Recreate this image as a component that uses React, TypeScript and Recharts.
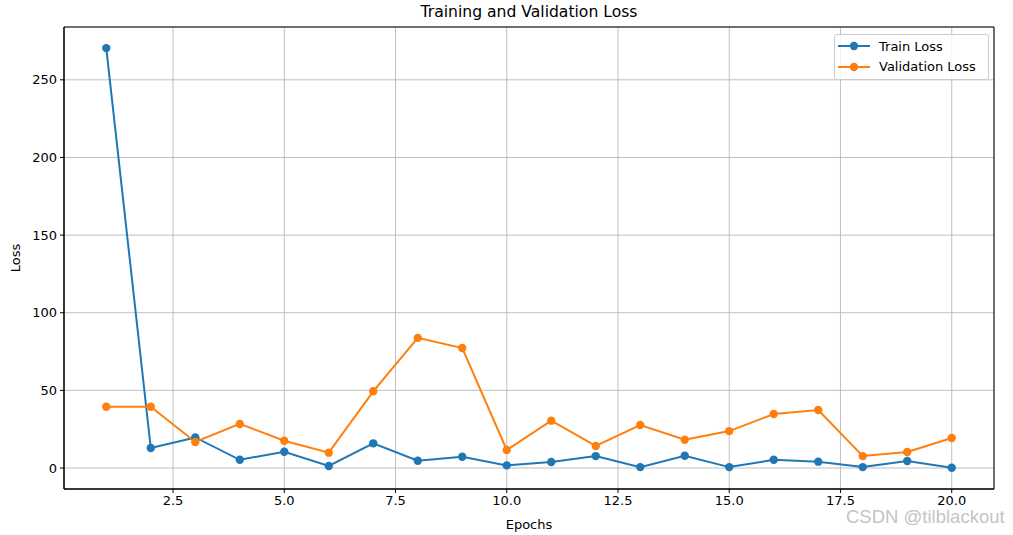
import React from "react";
import {
  LineChart,
  Line,
  XAxis,
  YAxis,
  CartesianGrid,
  ReferenceArea,
} from "recharts";

const epochs = [1, 2, 3, 4, 5, 6, 7, 8, 9, 10, 11, 12, 13, 14, 15, 16, 17, 18, 19, 20];
const trainLoss = [270.4, 12.9, 19.7, 5.3, 10.5, 1.3, 15.9, 4.7, 7.3, 1.7, 3.9, 7.7, 0.6, 7.9, 0.6, 5.3, 4.1, 0.6, 4.5, 0.2];
const valLoss = [39.5, 39.5, 16.8, 28.4, 17.6, 9.9, 49.4, 83.8, 77.3, 11.6, 30.5, 14.2, 27.7, 18.2, 23.8, 34.8, 37.4, 7.7, 10.3, 19.3];
const xTicks = [2.5, 5, 7.5, 10, 12.5, 15, 17.5, 20];
const yTicks = [0, 50, 100, 150, 200, 250];

const BLUE = "#1f77b4";
const ORANGE = "#ff7f0e";
const FONT = "DejaVu Sans, sans-serif";

const data = epochs.map((e, i) => ({ epoch: e, train: trainLoss[i], val: valLoss[i] }));

function LegendRow({ color, label }: { color: string; label: string }) {
  return (
    <div style={{ display: "flex", alignItems: "center", height: 20.5 }}>
      <svg width={34} height={12} style={{ marginRight: 8 }}>
        <line x1={1} y1={6} x2={33} y2={6} stroke={color} strokeWidth={2} />
        <circle cx={17} cy={6} r={4.2} fill={color} />
      </svg>
      <span>{label}</span>
    </div>
  );
}

export default function App() {
  return (
    <div
      style={{
        position: "absolute",
        left: 0,
        top: 0,
        width: 1013,
        height: 535,
        background: "#fff",
        fontFamily: FONT,
      }}
    >
      {/* watermark sits under the chart, tick labels draw over it */}
      <div
        style={{
          position: "absolute",
          left: 846,
          top: 506,
          fontSize: 18.5,
          color: "#c4c4c4",
          fontFamily: "Liberation Sans, Arial, sans-serif",
          whiteSpace: "nowrap",
        }}
      >
        CSDN @tilblackout
      </div>
      <div
        style={{
          position: "absolute",
          left: 64,
          width: 930,
          top: 3,
          textAlign: "center",
          fontSize: 15.6,
          color: "#000",
        }}
      >
        Training and Validation Loss
      </div>
      <LineChart
        width={1013}
        height={535}
        data={data}
        margin={{ top: 27, right: 19, bottom: 0, left: 0 }}
        style={{ fontFamily: FONT, position: "absolute", left: 0, top: 0 }}
      >
        <CartesianGrid stroke="#b0b0b0" strokeWidth={0.8} />
        <XAxis
          dataKey="epoch"
          type="number"
          domain={[0.05, 20.95]}
          ticks={xTicks}
          allowDataOverflow
          height={46}
          tickSize={4}
          tickMargin={3}
          tickFormatter={(v: number) => v.toFixed(1)}
          tick={{ fill: "#000", fontSize: 13 }}
          stroke="#000"
          label={{ value: "Epochs", position: "insideBottom", offset: 6, fill: "#000", fontSize: 13 }}
        />
        <YAxis
          type="number"
          domain={[-13.5, 284]}
          ticks={yTicks}
          allowDataOverflow
          width={64}
          tickSize={4}
          tickMargin={3}
          tick={{ fill: "#000", fontSize: 13 }}
          stroke="#000"
          label={{
            value: "Loss",
            angle: -90,
            position: "insideLeft",
            offset: 15,
            fill: "#000",
            fontSize: 13,
            style: { textAnchor: "middle" },
          }}
        />
        <ReferenceArea
          x1={0.05}
          x2={20.95}
          y1={-13.5}
          y2={284}
          fill="none"
          stroke="#000"
          strokeWidth={1}
          ifOverflow="extendDomain"
        />
        <Line
          dataKey="train"
          name="Train Loss"
          stroke={BLUE}
          strokeWidth={2}
          dot={{ r: 4.2, fill: BLUE, stroke: BLUE, strokeWidth: 0 }}
          activeDot={false}
          isAnimationActive={false}
        />
        <Line
          dataKey="val"
          name="Validation Loss"
          stroke={ORANGE}
          strokeWidth={2}
          dot={{ r: 4.2, fill: ORANGE, stroke: ORANGE, strokeWidth: 0 }}
          activeDot={false}
          isAnimationActive={false}
        />
      </LineChart>
      <div
        style={{
          position: "absolute",
          left: 834,
          top: 34,
          width: 151,
          height: 43,
          border: "1px solid #cccccc",
          borderRadius: 3,
          background: "rgba(255,255,255,0.8)",
          fontSize: 13,
          color: "#000",
          padding: "1px 0 0 2px",
          boxSizing: "content-box",
        }}
      >
        <LegendRow color={BLUE} label="Train Loss" />
        <LegendRow color={ORANGE} label="Validation Loss" />
      </div>
    </div>
  );
}
